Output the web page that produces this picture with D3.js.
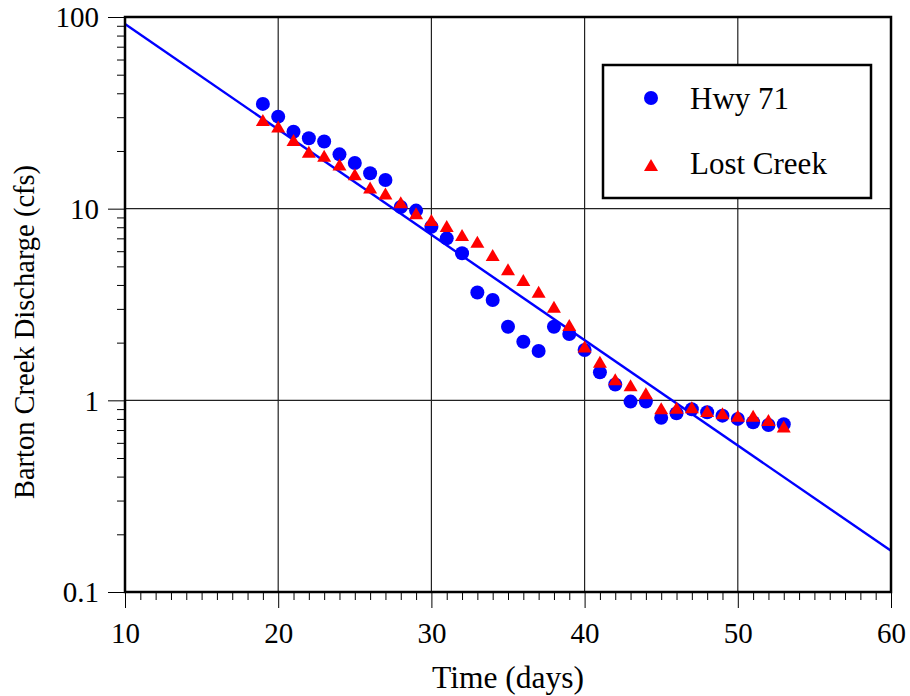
<!DOCTYPE html>
<html>
<head>
<meta charset="utf-8">
<script src="https://cdn.jsdelivr.net/npm/d3@7"></script>
<style>
  body { margin: 0; background: #fff; }
</style>
</head>
<body>
<svg id="chart" width="910" height="696"></svg>
<script>
const SERIF = "'Liberation Serif', 'Times New Roman', Times, 'DejaVu Serif', serif";

// data
const days = d3.range(19, 54);
const hwy71 = [35.2, 30.2, 25.2, 23.3, 22.4, 19.2, 17.3, 15.3, 14.1, 10.2,
               9.77, 8.05, 7.0, 5.85, 3.65, 3.34, 2.42, 2.02, 1.81, 2.42,
               2.22, 1.83, 1.40, 1.21, 0.985, 0.985, 0.81, 0.857, 0.898, 0.867,
               0.832, 0.80, 0.768, 0.743, 0.75];
const lostCreek = [29.0, 26.8, 22.8, 19.8, 18.9, 17.0, 15.1, 12.9, 12.0, 10.8,
                   9.46, 8.73, 8.12, 7.29, 6.73, 5.73, 4.83, 4.25, 3.69, 3.08,
                   2.47, 1.91, 1.59, 1.29, 1.20, 1.09, 0.91, 0.916, 0.92, 0.88,
                   0.857, 0.832, 0.83, 0.79, 0.73];
const fitX = [10, 60];
const fitY = [91.9, 0.164];
const xTicks = [10, 20, 30, 40, 50, 60];
const yTicks = [0.1, 1, 10, 100];
const yTickLabels = ["0.1", "1", "10", "100"];
const seriesNames = ["Hwy 71", "Lost Creek"];

const svg = d3.select("#chart"),
      m   = {top:17, right:19, bottom:104, left:125},
      iw  = 910 - m.left - m.right,
      ih  = 696 - m.top  - m.bottom;

const x = d3.scaleLinear().domain([10, 60]).range([0, iw]);
const y = d3.scaleLog().domain([0.1, 100]).range([ih, 0]);

const g = svg.append("g")
    .attr("transform", `translate(${m.left},${m.top})`);

// minor ticks
const xMinor = d3.range(10, 61).filter(d => d % 10 !== 0);
const yMinor = [];
[0.1, 1, 10].forEach(b => d3.range(2, 10).forEach(k => yMinor.push(b * k)));

// grid
g.append("g").selectAll("line")
  .data(xTicks.slice(1, -1)).enter().append("line")
    .attr("x1", d => x(d)).attr("x2", d => x(d))
    .attr("y1", 0).attr("y2", ih)
    .attr("stroke", "#222").attr("stroke-width", 1.2);
g.append("g").selectAll("line")
  .data(yTicks.slice(1, -1)).enter().append("line")
    .attr("y1", d => y(d)).attr("y2", d => y(d))
    .attr("x1", 0).attr("x2", iw)
    .attr("stroke", "#222").attr("stroke-width", 1.2);

// x axis
g.append("g")
  .attr("transform", `translate(0,${ih})`)
  .call(d3.axisBottom(x).tickValues(xMinor).tickSize(8).tickFormat(""))
  .call(a => a.select(".domain").remove())
  .selectAll("line").attr("stroke", "#000");
const xa = g.append("g")
  .attr("transform", `translate(0,${ih})`)
  .call(d3.axisBottom(x).tickValues(xTicks).tickSize(16).tickFormat(d3.format("d")))
  .call(a => a.select(".domain").remove());
xa.attr("font-family", SERIF).attr("font-size", 29);
xa.selectAll("line").attr("stroke", "#000");
xa.selectAll("text")
  .attr("y", 51).attr("dy", null)
  .attr("fill", "#000");

// y axis
g.append("g")
  .call(d3.axisLeft(y).tickValues(yMinor).tickSize(8).tickFormat(""))
  .call(a => a.select(".domain").remove())
  .selectAll("line").attr("stroke", "#000");
const ya = g.append("g")
  .call(d3.axisLeft(y).tickValues(yTicks).tickSize(17).tickPadding(9)
        .tickFormat((d, i) => yTickLabels[i]))
  .call(a => a.select(".domain").remove());
ya.attr("font-family", SERIF).attr("font-size", 29);
ya.selectAll("line").attr("stroke", "#000");
ya.selectAll("text")
  .attr("dy", "0.34em")
  .attr("fill", "#000");

// fit line
const line = d3.line().x(d => x(d[0])).y(d => y(d[1]));
g.append("path")
  .datum(d3.zip(fitX, fitY))
  .attr("d", line)
  .attr("fill", "none")
  .attr("stroke", "#0000ff")
  .attr("stroke-width", 2.4);

// points
const tri = "M0,-6L7,6L-7,6Z";
g.append("g").selectAll("circle")
  .data(d3.zip(days, hwy71)).enter().append("circle")
    .attr("cx", d => x(d[0]))
    .attr("cy", d => y(d[1]))
    .attr("r", 7)
    .attr("fill", "#0000ff");
g.append("g").selectAll("path")
  .data(d3.zip(days, lostCreek)).enter().append("path")
    .attr("transform", d => `translate(${x(d[0])},${y(d[1])})`)
    .attr("d", tri)
    .attr("fill", "#ff0000");

// frame
g.append("rect")
  .attr("width", iw).attr("height", ih)
  .attr("fill", "none")
  .attr("stroke", "#000")
  .attr("stroke-width", 2.5);

// legend
const legend = svg.append("g").attr("transform", "translate(603,65)");
legend.append("rect")
  .attr("width", 268).attr("height", 133)
  .attr("fill", "#fff")
  .attr("stroke", "#000")
  .attr("stroke-width", 2.5);
legend.append("circle")
  .attr("cx", 48).attr("cy", 33).attr("r", 7)
  .attr("fill", "#0000ff");
legend.append("path")
  .attr("transform", "translate(48,100)")
  .attr("d", tri)
  .attr("fill", "#ff0000");
legend.selectAll("text.lab")
  .data(seriesNames).enter().append("text")
    .attr("class", "lab")
    .attr("x", 87)
    .attr("y", (d, i) => 44 + i * 65)
    .attr("font-family", SERIF)
    .attr("font-size", 31)
    .text(d => d);

// axis titles
svg.append("text")
  .attr("x", m.left + iw / 2)
  .attr("y", 688)
  .attr("text-anchor", "middle")
  .attr("font-family", SERIF)
  .attr("font-size", 31.5)
  .text("Time (days)");
svg.append("text")
  .attr("transform", "translate(34,332) rotate(-90)")
  .attr("text-anchor", "middle")
  .attr("font-family", SERIF)
  .attr("font-size", 28.5)
  .text("Barton Creek Discharge (cfs)");
</script>
</body>
</html>
